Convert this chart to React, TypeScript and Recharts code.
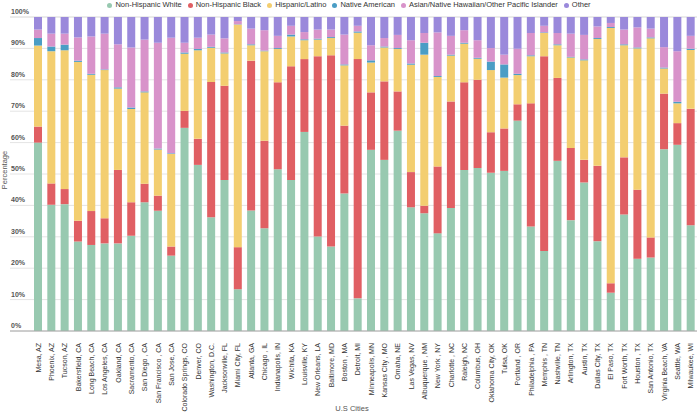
import React from "react";
import {
  BarChart,
  Bar,
  XAxis,
  YAxis,
  CartesianGrid,
  Legend,
} from "recharts";

const cities = [
  "Mesa, AZ", "Phoenix, AZ", "Tucson, AZ", "Bakersfield, CA", "Long Beach, CA",
  "Los Angeles, CA", "Oakland, CA", "Sacramento, CA", "San Diego , CA", "San Francisco , CA",
  "San Jose, CA", "Colorado Springs, CO", "Denver, CO", "Washington, D.C.", "Jacksonville, FL",
  "Miami City, FL", "Atlanta, GA", "Chicago , IL", "Indianapolis, IN", "Wichita, KA",
  "Louisville, KY", "New Orleans, LA", "Baltimore, MD", "Boston , MA", "Detroit, MI",
  "Minneapolis, MN", "Kansas City , MO", "Omaha, NE", "Las Vegas, NV", "Albuquerque , NM",
  "New York , NY", "Charlotte , NC", "Raleigh, NC", "Columbus, OH", "Oklahoma City, OK",
  "Tulsa, OK", "Portland , OR", "Philadelphia , PA", "Memphis , TN", "Nashville, TN",
  "Arlington, TX", "Austin, TX", "Dallas City, TX", "El Paso, TX", "Fort Worth, TX",
  "Houston , TX", "San Antonio, TX", "Virginia Beach, VA", "Seattle, WA", "Milwaukee, WI",
];

const white = [
  60.0, 40.2, 40.4, 28.5, 27.4, 27.9, 27.9, 30.3, 41.0, 38.3,
  24.0, 64.7, 52.9, 36.2, 48.1, 13.3, 38.4, 32.7, 51.5, 48.1,
  63.4, 30.1, 26.9, 43.8, 10.4, 57.7, 54.5, 63.8, 39.4, 37.5,
  31.1, 39.2, 51.3, 51.9, 50.4, 51.0, 67.0, 33.3, 25.5, 54.2,
  35.3, 47.3, 28.6, 12.2, 37.1, 23.0, 23.4, 57.9, 59.3, 33.7,
];
const black = [
  5.1, 6.8, 4.8, 6.6, 10.8, 8.0, 23.4, 10.7, 5.9, 4.8,
  2.9, 5.4, 8.3, 43.1, 30.0, 13.4, 47.7, 27.9, 27.7, 36.2,
  23.2, 57.4, 60.9, 21.6, 76.2, 18.3, 25.0, 12.5, 11.2, 2.4,
  21.3, 33.9, 27.9, 28.1, 12.9, 13.5, 5.2, 39.2, 62.0, 26.4,
  23.0, 7.2, 24.0, 3.0, 18.2, 22.0, 6.4, 17.7, 6.9, 37.1,
];
const hispanic = [
  25.8, 42.1, 44.2, 50.6, 43.4, 47.2, 25.9, 29.7, 29.1, 14.7,
  29.5, 18.2, 28.2, 10.9, 10.3, 70.9, 4.9, 28.5, 10.6, 9.5,
  6.0, 5.3, 5.5, 19.2, 8.4, 9.5, 10.8, 13.5, 34.2, 48.1,
  28.5, 14.6, 12.3, 6.7, 19.8, 16.2, 9.3, 15.0, 7.4, 10.4,
  28.8, 31.7, 40.4, 81.3, 35.7, 45.0, 63.4, 8.0, 6.3, 18.7,
];
const nativeAmerican = [
  2.4, 1.5, 1.8, 0.4, 0.3, 0.2, 0.4, 0.5, 0.3, 0.3,
  0.2, 0.4, 0.4, 0.3, 0.3, 0.1, 0.3, 0.2, 0.3, 0.6,
  0.3, 0.3, 0.3, 0.3, 0.4, 0.7, 0.3, 0.3, 0.4, 3.8,
  0.3, 0.3, 0.3, 0.3, 2.7, 4.2, 0.4, 0.3, 0.2, 0.3,
  0.2, 0.3, 0.3, 0.3, 0.3, 0.3, 0.3, 0.3, 0.5, 0.4,
];
const asian = [
  2.7, 4.1, 3.5, 7.4, 11.9, 11.4, 13.7, 19.1, 16.5, 33.7,
  36.8, 3.1, 3.6, 3.9, 4.5, 1.0, 5.0, 6.5, 3.9, 2.8,
  2.3, 2.9, 2.4, 9.5, 1.8, 4.8, 2.7, 4.2, 7.4, 3.1,
  13.9, 6.0, 4.0, 5.6, 4.3, 3.1, 8.0, 7.1, 2.1, 3.6,
  7.4, 7.8, 3.7, 1.3, 4.7, 6.4, 2.8, 6.5, 16.1, 4.1,
];
const other = [
  4.0, 5.3, 5.3, 6.5, 6.2, 5.3, 8.7, 9.7, 7.2, 8.2,
  6.6, 8.2, 6.6, 5.6, 6.8, 1.3, 3.7, 4.2, 6.0, 2.8,
  4.8, 4.0, 4.0, 5.6, 2.8, 9.0, 6.7, 5.7, 7.4, 5.1,
  4.9, 6.0, 4.2, 7.4, 9.9, 12.0, 10.1, 5.1, 2.8, 5.1,
  5.3, 5.7, 3.0, 1.9, 4.0, 3.3, 3.7, 9.6, 10.9, 6.0,
];

const yTicks = [0, 10, 20, 30, 40, 50, 60, 70, 80, 90, 100];

const series = [
  { key: "white", name: "Non-Hispanic White", color: "#98c9b0" },
  { key: "black", name: "Non-Hispanic Black", color: "#e05f63" },
  { key: "hispanic", name: "Hispanic/Latino", color: "#f3ce70" },
  { key: "nativeAmerican", name: "Native American", color: "#4a9dc5" },
  { key: "asian", name: "Asian/Native Hawaiian/Other Pacific Islander", color: "#d893ca" },
  { key: "other", name: "Other", color: "#9a89db" },
];

const chartData = cities.map((city, i) => ({
  city,
  white: white[i],
  black: black[i],
  hispanic: hispanic[i],
  nativeAmerican: nativeAmerican[i],
  asian: asian[i],
  other: other[i],
}));

const FONT = "'Liberation Sans', Arial, sans-serif";

// y labels sit above the gridlines, flush left
const YTick = (props: any) => {
  const { y, payload } = props;
  return (
    <text x={11} y={y - 3} fontSize={7} fontWeight={700} fill="#555" fontFamily={FONT} textAnchor="start">
      {payload.value}%
    </text>
  );
};

const XTick = (props: any) => {
  const { x, y, payload } = props;
  return (
    <text
      x={0}
      y={0}
      transform={`translate(${x + 3},${y + 4}) rotate(-90)`}
      fontSize={7}
      fill="#333"
      fontFamily={FONT}
      textAnchor="end"
    >
      {payload.value}
    </text>
  );
};

// keep the legend in series order, not alphabetical
const LegendContent = () => (
  <div
    style={{
      display: "flex",
      justifyContent: "center",
      alignItems: "center",
      fontFamily: FONT,
      fontSize: 7.5,
      color: "#333",
      lineHeight: "10px",
      paddingLeft: 4,
    }}
  >
    {series.map((s) => (
      <div key={s.key} style={{ display: "flex", alignItems: "center", marginRight: 6 }}>
        <span
          style={{
            width: 5,
            height: 5,
            borderRadius: "50%",
            background: s.color,
            marginRight: 3,
            display: "inline-block",
          }}
        />
        <span>{s.name}</span>
      </div>
    ))}
  </div>
);

const App: React.FC = () => {
  return (
    <div style={{ width: 700, height: 415, background: "#fff" }}>
      <style>{"body{margin:0}"}</style>
      <BarChart
        width={700}
        height={415}
        data={chartData}
        margin={{ top: 3, right: 3, left: 10, bottom: 0 }}
        barSize={8}
      >
        <Legend
          verticalAlign="top"
          align="center"
          height={14}
          content={<LegendContent />}
          wrapperStyle={{ top: 0, left: 0, width: 700 }}
        />
        <CartesianGrid horizontal vertical={false} stroke="#e4e4e4" />
        <XAxis
          dataKey="city"
          interval={0}
          height={84}
          padding={{ left: 21, right: 0 }}
          tickLine={false}
          axisLine={{ stroke: "#a8a8a8" }}
          tick={<XTick />}
          label={{
            content: () => (
              <text x={352} y={411} fontSize={7.5} fill="#555" fontFamily={FONT} textAnchor="middle">
                U.S Cities
              </text>
            ),
          }}
        />
        <YAxis
          mirror
          domain={[0, 100]}
          ticks={yTicks}
          axisLine={false}
          tickLine={false}
          tick={<YTick />}
          label={{
            content: () => (
              <text
                x={0}
                y={0}
                transform="translate(7,170) rotate(-90)"
                fontSize={7.5}
                fill="#555"
                fontFamily={FONT}
                textAnchor="middle"
              >
                Percentage
              </text>
            ),
          }}
        />
        {series.map((s) => (
          <Bar
            key={s.key}
            dataKey={s.key}
            name={s.name}
            stackId="a"
            fill={s.color}
            isAnimationActive={false}
          />
        ))}
      </BarChart>
    </div>
  );
};

export default App;
